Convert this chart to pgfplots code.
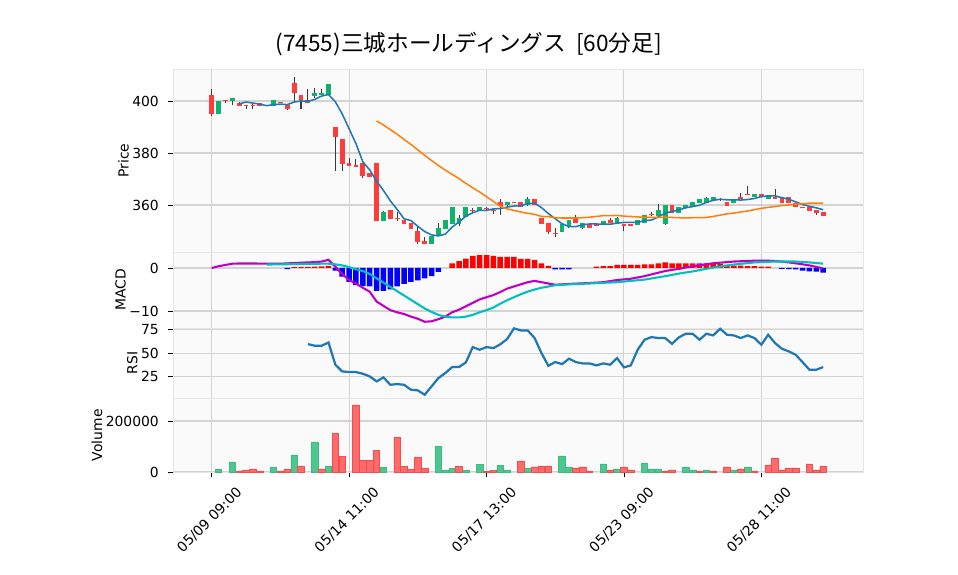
\documentclass[border=0pt]{standalone}
\usepackage{fontspec}
\setmainfont{DejaVu Sans}
\newfontfamily\cjk{Noto Sans CJK JP}
\usepackage{pgfplots}
\usepackage{pgfplotstable}
\pgfplotsset{compat=1.18}

\definecolor{bgc}{HTML}{FAFAFA}
\definecolor{gridc}{HTML}{D3D3D3}
\definecolor{spinec}{HTML}{E6E6E6}
\definecolor{cup}{HTML}{0DB26B}
\definecolor{cdn}{HTML}{FF3B3B}
\definecolor{vup}{HTML}{4DC68F}
\definecolor{vupe}{HTML}{3DBB82}
\definecolor{vdn}{HTML}{FF6B6B}
\definecolor{vdne}{HTML}{F24E4E}
\definecolor{wick}{HTML}{3A3A3A}
\definecolor{ma5}{HTML}{1F77B4}
\definecolor{ma25}{HTML}{FF7F0E}
\definecolor{macdc}{HTML}{C000C0}
\definecolor{sigc}{HTML}{00BFBF}

% bars that closed up
\pgfplotstableread{
i o h l c
1 395.0 400.1 395.0 400.1
3 400.0 401.3 398.3 401.3
9 398.1 400.3 398.1 400.3
15 401.9 405.1 401.3 403.2
16 402.2 404.5 402.2 403.2
17 402.2 406.4 402.2 406.4
25 354.0 357.8 354.0 357.2
32 344.9 348.1 344.9 348.1
33 348.3 353.2 348.3 351.0
34 350.8 354.2 350.8 354.2
35 352.7 359.1 352.7 359.1
36 352.7 356.2 351.9 354.9
37 355.5 359.1 355.5 359.1
39 357.8 359.1 357.8 359.1
43 360.0 361.2 359.6 361.0
46 360.0 363.2 359.6 362.2
51 349.7 352.6 349.7 352.6
52 351.7 354.2 351.0 354.2
54 351.0 353.0 350.6 353.0
57 352.3 354.0 352.3 354.0
59 352.6 355.5 352.6 354.9
62 352.3 354.2 352.3 354.2
63 353.0 356.2 353.0 356.2
65 355.8 360.3 355.8 358.1
66 352.8 360.0 352.3 360.0
68 357.1 359.1 357.1 359.1
69 358.7 360.0 358.7 360.0
70 359.4 361.0 359.4 361.0
71 360.6 362.2 360.6 362.2
72 360.9 363.0 360.9 362.6
73 361.9 363.2 361.9 363.2
76 360.9 362.2 360.9 362.2
79 362.9 364.2 362.9 364.2
81 362.2 363.8 362.2 363.8
}\candup

% bars that closed down
\pgfplotstableread{
i o h l c
0 402.2 404.5 394.2 395.0
2 400.3 400.3 399.4 399.9
4 399.4 399.5 398.0 398.1
5 398.6 398.6 397.0 398.2
6 398.6 399.4 397.0 398.2
7 399.4 399.4 398.1 398.1
8 398.6 398.6 398.2 398.2
10 399.6 399.6 399.2 399.2
11 398.3 398.3 396.5 397.0
12 407.1 409.4 400.0 403.2
13 402.2 402.2 397.0 400.4
14 400.3 404.5 399.4 399.4
18 390.1 390.1 373.2 386.1
19 385.2 385.2 373.2 375.9
20 376.2 378.1 374.9 374.9
21 375.2 377.5 374.8 374.8
22 376.2 376.2 370.2 371.1
23 372.2 372.3 370.9 370.9
24 376.0 376.0 354.0 354.0
26 358.1 358.1 354.6 354.6
27 354.9 357.4 354.0 354.5
28 354.2 354.2 352.7 352.7
29 353.2 353.2 350.8 350.8
30 350.0 351.4 344.9 345.9
31 346.2 347.8 344.9 344.9
38 358.2 358.8 357.0 357.8
40 358.9 359.4 358.1 358.5
41 358.1 358.8 356.5 357.7
42 361.0 362.3 356.2 359.6
44 361.3 361.3 360.9 360.9
45 361.0 361.0 359.1 359.1
47 362.2 362.2 360.0 360.0
48 355.1 355.1 352.7 352.7
49 353.2 353.2 348.8 349.7
50 349.3 351.0 347.8 348.9
53 355.1 356.2 352.9 352.9
55 352.6 352.6 351.0 351.0
56 352.5 352.5 352.1 352.1
58 354.2 354.9 352.9 352.9
60 352.5 352.5 350.1 352.1
61 352.5 352.5 352.1 352.1
64 356.4 357.4 355.8 356.0
67 360.0 360.0 357.1 357.1
74 362.3 362.8 361.6 361.9
75 361.3 361.3 359.7 359.7
77 363.2 364.5 362.2 362.2
78 364.3 367.3 363.9 363.9
80 364.2 364.2 363.2 363.2
82 363.2 366.0 362.2 362.2
83 362.9 362.9 360.9 360.9
84 362.9 362.9 360.9 360.9
85 360.9 360.9 359.1 359.1
86 359.3 359.3 358.9 358.9
87 359.1 359.1 357.8 357.8
88 358.1 358.1 356.2 357.1
89 357.3 357.3 355.9 355.9
}\canddn

\pgfplotstableread{
i v
4 398.9
5 399.6
6 399.2
7 398.8
8 398.2
9 398.6
10 398.8
11 398.6
12 399.6
13 400.0
14 399.9
15 400.6
16 401.9
17 402.5
18 399.7
19 395.0
20 389.3
21 383.6
22 376.6
23 373.5
24 369.2
25 365.6
26 361.6
27 358.3
28 354.7
29 354.0
30 351.8
31 349.8
32 348.5
33 348.1
34 348.8
35 351.5
36 353.5
37 355.7
38 357.0
39 358.0
40 357.9
41 358.5
42 358.6
43 359.2
44 359.6
45 359.7
46 360.6
47 360.7
48 359.0
49 356.7
50 354.7
51 352.8
52 351.7
53 351.7
54 352.4
55 352.7
56 352.7
57 352.6
58 352.6
59 353.0
60 353.3
61 353.3
62 353.3
63 354.0
64 354.2
65 355.4
66 356.9
67 357.5
68 358.1
69 358.9
70 359.4
71 359.9
72 361.0
73 361.8
74 362.2
75 362.0
76 362.0
77 361.9
78 362.1
79 362.5
80 363.2
81 363.5
82 363.5
83 362.8
84 362.2
85 361.2
86 360.2
87 359.5
88 358.9
89 358.2
}\mafive

\pgfplotstableread{
i v
24 392.3
25 390.8
26 389.0
27 387.2
28 385.2
29 383.3
30 381.2
31 379.1
32 377.1
33 375.2
34 373.4
35 371.8
36 370.1
37 368.3
38 366.6
39 365.0
40 363.2
41 361.4
42 359.5
43 358.5
44 357.9
45 357.3
46 356.8
47 356.4
48 355.6
49 355.5
50 355.1
51 355.0
52 355.0
53 355.0
54 355.1
55 355.3
56 355.6
57 355.9
58 355.9
59 356.0
60 355.7
61 355.6
62 355.4
63 355.3
64 355.2
65 355.2
66 355.3
67 355.2
68 355.1
69 355.0
70 355.1
71 355.1
72 355.2
73 355.6
74 356.1
75 356.6
76 356.9
77 357.3
78 357.7
79 358.2
80 358.7
81 359.1
82 359.4
83 359.8
84 360.0
85 360.3
86 360.5
87 360.7
88 360.7
89 360.7
}\matwentyfive

\pgfplotsset{
  panel/.style={
    scale only axis, width=496.8pt, anchor=south west,
    xmin=-5.63, xmax=94.8,
    xtick={0,20,40,60,80}, xticklabels={},
    xtick style={draw=none},
    ytick pos=left,
    axis background/.style={fill=bgc},
    grid=major, major grid style={draw=gridc, line width=0.8pt},
    axis line style={draw=spinec, line width=0.6pt},
    tick align=outside, major tick length=3.5pt,
    ytick style={draw=black, line width=0.6pt},
    tick label style={font=\fontsize{10}{12}\selectfont},
    yticklabel style={xshift=-3.2pt},
    ylabel style={font=\fontsize{10}{12}\selectfont},
    ylabel shift=-4.3pt,
    /pgf/number format/assume math mode=true,
  },
  stick/.style={draw=none, mark=none, forget plot,
    error bars/.cd, y dir=plus, y explicit, error mark=none,
    error bar style={draw=#1}},
}

\begin{document}
\begin{tikzpicture}
\path[use as bounding box] (0,0) rectangle (689.76pt,414pt);

\node[font=\cjk\fontsize{16.3}{19}\selectfont] at (337.5pt,382.3pt) {(7455)三城ホールディングス\ \ [60分足]};

% price panel
\begin{axis}[panel, at={(124.56pt,232.56pt)}, height=131.76pt,
  ymin=341.92, ymax=412.31, ytick={360,380,400}, ylabel={Price}]
\addplot[stick={wick, line width=0.75pt}]
  table[x=i, y=l, y error plus expr=\thisrow{h}-\thisrow{l}] {\candup};
\addplot[stick={wick, line width=0.75pt}]
  table[x=i, y=l, y error plus expr=\thisrow{h}-\thisrow{l}] {\canddn};
\addplot[stick={cup, line width=3.46pt}]
  table[x=i, y=o, y error plus expr=\thisrow{c}-\thisrow{o}] {\candup};
\addplot[stick={cdn, line width=3.46pt}]
  table[x=i, y=c, y error plus expr=\thisrow{o}-\thisrow{c}] {\canddn};
\addplot[ma5, line width=1.1pt, mark=none] table[x=i, y=v] {\mafive};
\addplot[ma25, line width=1.1pt, mark=none] table[x=i, y=v] {\matwentyfive};
\end{axis}

% MACD panel
\begin{axis}[panel, at={(124.56pt,177.84pt)}, height=54.72pt,
  ymin=-13.95, ymax=3.72, ytick={-10,0}, yticklabels={−10,0}, ylabel={MACD}]
\addplot[ybar, bar width=0.8, bar shift=0pt, fill=red, draw=none] coordinates {
(12,0.25)(13,0.25)(14,0.25)(15,0.3)(16,0.35)(17,0.5)(35,1.1)(36,1.6)(37,2.2)(38,2.8)
(39,3.0)(40,3.0)(41,2.8)(42,2.6)(43,2.6)(44,2.6)(45,2.1)(46,2.1)(47,1.9)(48,1.1)(49,0.5)
(56,0.3)(57,0.45)(58,0.45)(59,0.7)(60,0.7)(61,0.7)(62,0.7)(63,0.85)(64,0.85)(65,1.1)
(66,1.3)(67,1.1)(68,1.1)(69,1.1)(70,1.1)(71,1.1)(72,1.1)(73,1.1)(74,0.95)(75,0.7)
(76,0.55)(77,0.55)(78,0.45)(79,0.45)(80,0.3)(81,0.3)};
\addplot[ybar, bar width=0.8, bar shift=0pt, fill=blue, draw=none] coordinates {
(11,-0.25)(18,-0.6)(19,-2.0)(20,-3.2)(21,-4.0)(22,-4.2)(23,-4.3)(24,-5.3)(25,-5.3)
(26,-5.0)(27,-4.3)(28,-3.7)(29,-3.2)(30,-2.9)(31,-2.4)(32,-1.9)(33,-0.9)
(50,-0.3)(51,-0.3)(52,-0.3)(83,-0.2)(84,-0.25)(85,-0.35)(86,-0.6)(87,-0.8)(88,-0.85)(89,-1.1)};
\addplot[macdc, line width=1.5pt, mark=none] coordinates {
(0,0.0)(1,0.4)(2,0.7)(3,1.0)(4,1.05)(6,1.05)(8,1.0)(10,1.0)(12,1.15)(14,1.3)(15,1.35)
(16,1.5)(17,1.9)(18,0.3)(19,-1.4)(20,-2.8)(21,-3.6)(22,-4.6)(23,-5.5)(24,-7.8)(25,-8.8)
(26,-9.8)(27,-10.3)(28,-10.7)(29,-11.3)(30,-11.8)(31,-12.5)(32,-12.4)(33,-11.9)(34,-11.3)
(35,-10.3)(36,-9.7)(37,-8.9)(38,-8.1)(39,-7.3)(40,-6.8)(41,-6.3)(42,-5.6)(43,-4.8)
(44,-4.3)(45,-3.8)(46,-3.3)(47,-3.0)(48,-3.3)(49,-3.6)(50,-3.9)(52,-3.7)(55,-3.5)
(57,-3.3)(59,-2.8)(61,-2.5)(63,-1.9)(65,-1.1)(66,-0.7)(68,-0.2)(70,0.4)(73,1.1)
(76,1.5)(79,1.7)(81,1.7)(83,1.5)(85,1.1)(87,0.6)(89,-0.1)};
\addplot[sigc, line width=1.5pt, mark=none] coordinates {
(8,0.8)(10,0.85)(12,0.9)(14,0.95)(16,1.0)(17,1.0)(18,0.85)(19,0.6)(20,0.2)(21,-0.3)
(22,-0.7)(23,-1.4)(24,-2.4)(25,-3.4)(26,-4.4)(27,-5.4)(28,-6.4)(29,-7.4)(30,-8.4)
(31,-9.4)(32,-10.2)(33,-10.9)(34,-11.3)(35,-11.5)(36,-11.5)(37,-11.3)(38,-10.9)
(39,-10.3)(40,-9.8)(41,-9.2)(42,-8.3)(43,-7.5)(44,-6.8)(45,-6.1)(46,-5.5)(47,-5.0)
(48,-4.6)(49,-4.3)(50,-4.0)(52,-3.8)(55,-3.6)(59,-3.3)(63,-2.7)(66,-1.9)(68,-1.3)
(70,-0.8)(73,0.1)(76,0.8)(79,1.3)(82,1.5)(85,1.5)(87,1.3)(89,1.0)};
\end{axis}

% RSI panel
\begin{axis}[panel, at={(124.56pt,127.44pt)}, height=50.4pt,
  ymin=2.2, ymax=76.7, ytick={25,50,75}, ylabel={RSI}]
\addplot[ma5, line width=1.6pt, mark=none] coordinates {
(14,59.6)(15,57.8)(16,57.8)(17,61.3)(18,37.6)(19,30.5)(20,29.8)(21,29.8)(22,28.0)
(23,25.2)(24,19.9)(25,24.1)(26,16.3)(27,17.0)(28,16.3)(29,11.0)(30,10.3)(31,5.7)
(32,14.5)(33,23.4)(34,28.7)(35,35.1)(36,35.1)(37,40.1)(38,56.4)(39,53.5)(40,56.4)
(41,55.3)(42,59.3)(43,64.9)(44,76.3)(45,74.1)(46,74.1)(47,66.0)(48,50.0)(49,36.5)
(50,40.4)(51,38.3)(52,44.0)(53,40.4)(54,39.0)(55,39.0)(56,36.9)(57,39.0)(58,37.6)
(59,44.7)(60,34.8)(61,36.9)(62,53.5)(63,64.2)(64,67.0)(65,66.0)(66,66.0)(67,59.9)
(68,66.7)(69,70.6)(70,70.6)(71,64.2)(72,70.6)(73,68.8)(74,75.9)(75,69.5)(76,68.8)
(77,66.0)(78,68.8)(79,66.0)(80,58.9)(81,69.5)(82,60.6)(83,54.6)(84,51.8)(85,48.2)
(86,40.4)(87,32.3)(88,32.3)(89,35.1)};
\end{axis}

% volume panel
\begin{axis}[panel, at={(124.56pt,73.8pt)}, height=53.64pt,
  ymin=-2000, ymax=290000, ytick={0,200000}, yticklabels={0,200000},
  scaled y ticks=false, ylabel={Volume},
  xtick pos=bottom, xtick style={draw=black, line width=0.6pt},
  xticklabels={05/09 09:00,05/14 11:00,05/17 13:00,05/23 09:00,05/28 11:00},
  xticklabel style={inner sep=0pt, xshift=17pt, yshift=-6pt, rotate=45, anchor=north east}]
\addplot[ybar, bar width=0.95, bar shift=0pt, fill=vup, draw=vupe, line width=0.5pt] coordinates {
(1,11800)(3,39300)(9,19700)(12,66800)(15,118000)(17,23600)(25,18400)(33,101300)
(34,5300)(35,14500)(37,5300)(39,30300)(42,26800)(43,7800)(46,15700)(51,62700)
(52,19600)(57,31400)(59,11800)(63,35300)(64,11800)(65,11800)(69,19600)(70,7800)
(72,7800)(76,7800)(78,19600)};
\addplot[ybar, bar width=0.95, bar shift=0pt, fill=vdn, draw=vdne, line width=0.5pt] coordinates {
(4,4000)(5,7900)(6,11800)(7,4000)(10,4000)(11,11800)(13,23600)(16,11800)(18,152000)
(19,62500)(21,263000)(22,46000)(23,46000)(24,85500)(27,137000)(28,22400)(29,10500)
(30,58000)(31,14500)(36,22400)(40,2600)(41,5300)(45,43100)(47,19600)(48,23500)
(49,23500)(53,15700)(54,19600)(55,3900)(58,7800)(60,19600)(61,7800)(66,3900)
(67,7800)(71,3900)(73,3900)(75,19600)(77,11800)(79,3900)(81,27400)(82,54900)
(83,7800)(84,15700)(85,15700)(87,31400)(88,7800)(89,23500)};
\end{axis}
\end{tikzpicture}
\end{document}
